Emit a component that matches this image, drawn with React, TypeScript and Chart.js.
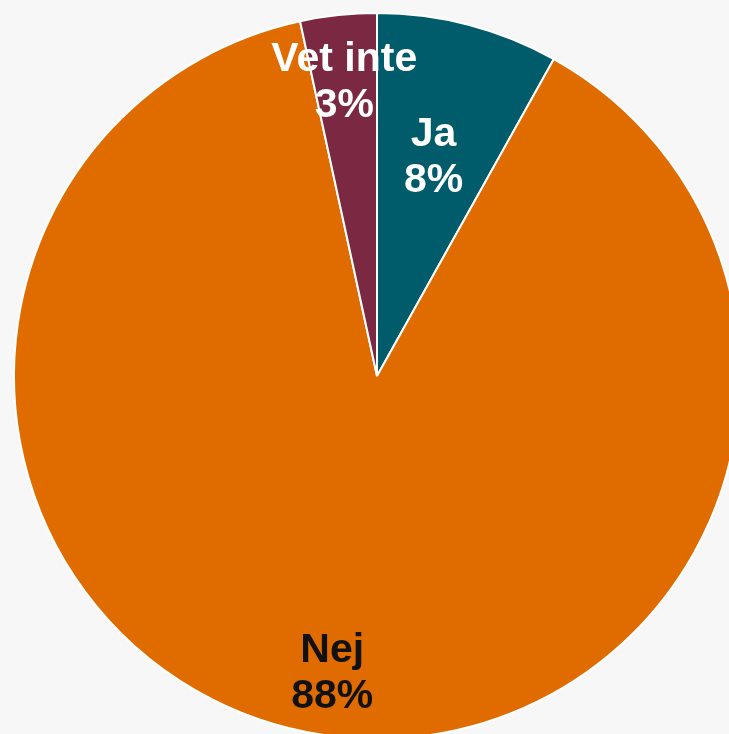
import React, { useEffect, useRef } from "react";
import { Chart, registerables } from "chart.js";

Chart.register(...registerables);

const categories = ["Ja", "Nej", "Vet inte"];
const values = [8.1, 88.5, 3.4];
const percentLabels = ["8%", "88%", "3%"];
const sliceColors = ["#005b6b", "#e06c00", "#7b2942"];
const labelColors = ["#ffffff", "#111111", "#ffffff"];
const labelRadiusFraction = [0.63, 0.82, 0.82];

const labelPlugin = {
  id: "sliceLabels",
  afterDatasetsDraw(chart: any) {
    const ctx = chart.ctx;
    const meta = chart.getDatasetMeta(0);
    ctx.save();
    ctx.font = "bold 41px 'Liberation Sans', Arial, sans-serif";
    ctx.textAlign = "center";
    ctx.textBaseline = "middle";
    meta.data.forEach((arc: any, i: number) => {
      const p = arc.getProps(["x", "y", "startAngle", "endAngle", "outerRadius"], true);
      const mid = (p.startAngle + p.endAngle) / 2;
      const r = p.outerRadius * labelRadiusFraction[i];
      const cx = p.x + Math.cos(mid) * r;
      const cy = p.y + Math.sin(mid) * r;
      ctx.fillStyle = labelColors[i];
      ctx.fillText(categories[i], cx - 1, cy - 20);
      ctx.fillText(percentLabels[i], cx - 1, cy + 26);
    });
    ctx.restore();
  },
};

export default function App() {
  const ref = useRef<HTMLCanvasElement | null>(null);
  useEffect(() => {
    if (!ref.current) return;
    const chart = new Chart(ref.current, {
      type: "pie",
      data: {
        labels: categories,
        datasets: [
          {
            data: values,
            backgroundColor: sliceColors,
            borderColor: "#ffffff",
            borderWidth: 2,
            hoverOffset: 0,
          },
        ],
      },
      options: {
        responsive: false,
        animation: false,
        layout: { padding: 12 },
        plugins: {
          legend: { display: false },
          tooltip: { enabled: false },
        },
      },
      plugins: [labelPlugin],
    });
    return () => chart.destroy();
  }, []);
  return (
    <div
      style={{
        position: "fixed",
        left: 0,
        top: 0,
        width: 729,
        height: 734,
        overflow: "hidden",
        background: "#f7f7f7",
      }}
    >
      <canvas ref={ref} width={754} height={752} style={{ display: "block" }} />
    </div>
  );
}
